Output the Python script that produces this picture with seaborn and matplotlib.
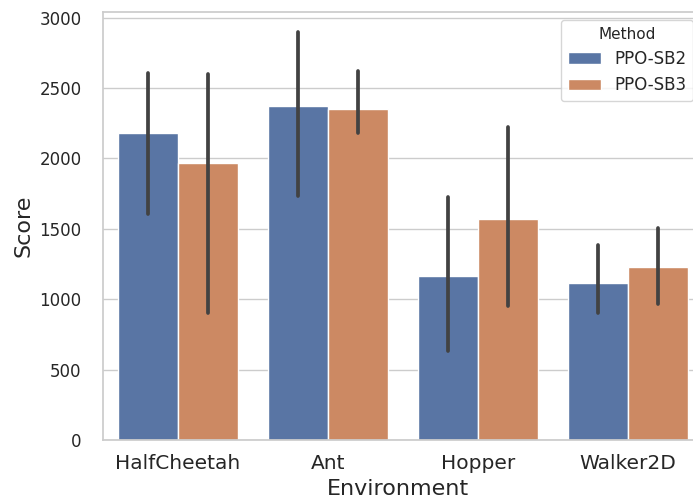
import matplotlib
matplotlib.use("Agg")
import matplotlib.pyplot as plt
import seaborn as sns
import pandas as pd

# Mean scores and 95% interval bounds per environment and method
environments = ["HalfCheetah", "Ant", "Hopper", "Walker2D"]
methods = ["PPO-SB2", "PPO-SB3"]
sb2_mean = [2184, 2375, 1163, 1113]
sb3_mean = [1971, 2354, 1567, 1227]
sb2_low = [1602, 1730, 635, 900]
sb2_high = [2609, 2895, 1723, 1383]
sb3_low = [905, 2184, 950, 964]
sb3_high = [2602, 2623, 2226, 1503]

sns.set_theme(style="whitegrid")
plt.rcParams["font.family"] = ["DejaVu Sans"]

df = pd.DataFrame({
    "Environment": environments * 2,
    "Method": [methods[0]] * 4 + [methods[1]] * 4,
    "Score": sb2_mean + sb3_mean,
})

W, H = 693, 500
fig = plt.figure(figsize=(W / 100, H / 100), dpi=100)
# axes runs to the right edge of the canvas
ax = fig.add_axes([103 / W, 60 / H, 590 / W, 428 / H])

sns.barplot(data=df, x="Environment", y="Score", hue="Method",
            order=environments, hue_order=methods, errorbar=None, ax=ax)

# Interval lines at the centre of each bar
bounds = [(sb2_low, sb2_high), (sb3_low, sb3_high)]
for container, (lo, hi) in zip(ax.containers, bounds):
    for bar, l, h in zip(container, lo, hi):
        xc = bar.get_x() + bar.get_width() / 2
        ax.plot([xc, xc], [l, h], color=".26", linewidth=2.7,
                solid_capstyle="round", zorder=3)

ax.set_xlim(-0.5, -0.5 + 590 / 150)
ax.set_ylim(0, 3040)
ax.spines["right"].set_visible(False)
ax.tick_params(axis="x", labelsize=14.5, pad=4)
ax.tick_params(axis="y", labelsize=12, pad=9.5)
ax.set_xlabel("Environment", fontsize=16, labelpad=4.5)
ax.set_ylabel("Score", fontsize=16, labelpad=4)

leg = ax.legend(title="Method", loc="upper right", fontsize=12,
                title_fontsize=11, borderaxespad=0,
                bbox_to_anchor=(693 / W, 480 / H),
                bbox_transform=fig.transFigure)

fig.savefig("out.png", dpi=100)
